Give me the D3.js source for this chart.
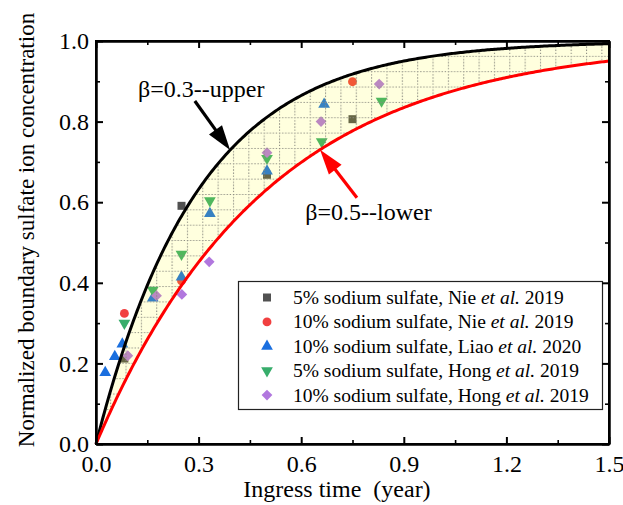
<!DOCTYPE html>
<html>
<head>
<meta charset="utf-8">
<script src="https://cdn.jsdelivr.net/npm/d3@7"></script>
<style>
  html, body { margin: 0; padding: 0; background: #fff; }
  svg { display: block; }
  svg text { font-family: "Liberation Serif", "Tinos", "Times New Roman", Times, "DejaVu Serif", serif !important; fill: #000; }
</style>
</head>
<body>
<svg id="chart" width="623" height="505" font-family="Liberation Serif"></svg>
<script>
// ---- measured boundary concentrations (time in years, normalized concentration) ----
const nie5Time   = [0.083, 0.25, 0.5, 0.75];
const nie5Conc   = [0.212, 0.591, 0.668, 0.806];
const nie10Time  = [0.083, 0.25, 0.75];
const nie10Conc  = [0.324, 0.405, 0.899];
const liao10Time = [0.027, 0.055, 0.077, 0.166, 0.25, 0.333, 0.5, 0.667];
const liao10Conc = [0.177, 0.217, 0.248, 0.362, 0.414, 0.572, 0.677, 0.843];
const hong5Time  = [0.083, 0.166, 0.25, 0.333, 0.5, 0.66, 0.835];
const hong5Conc  = [0.300, 0.382, 0.471, 0.604, 0.709, 0.750, 0.851];
const hong10Time = [0.093, 0.177, 0.251, 0.331, 0.5, 0.658, 0.828];
const hong10Conc = [0.219, 0.368, 0.371, 0.452, 0.723, 0.800, 0.893];

// legend entries: [before italic, italic, after italic]
const seriesLabels = [
  ["5% sodium sulfate, Nie ", "et al.", " 2019"],
  ["10% sodium sulfate, Nie ", "et al.", " 2019"],
  ["10% sodium sulfate, Liao ", "et al.", " 2020"],
  ["5% sodium sulfate, Hong ", "et al.", " 2019"],
  ["10% sodium sulfate, Hong ", "et al.", " 2019"]
];
const seriesColors  = ["#515151", "#F14040", "#1A6FDF", "#37AD6B", "#B177DE"];
const seriesSymbols = ["square", "circle", "triangleUp", "triangleDown", "diamond"];

// boundary model C(t) = 1 - exp(-t / beta)
const betaUpper = 0.3;
const betaLower = 0.5;
const upperLabel = "\u03B2=0.3--upper";
const lowerLabel = "\u03B2=0.5--lower";

// axis ticks
const xMajorTicks = [0, 0.3, 0.6, 0.9, 1.2, 1.5];
const xMinorTicks = [0.15, 0.45, 0.75, 1.05, 1.35];
const yMajorTicks = [0, 0.2, 0.4, 0.6, 0.8, 1.0];
const yMinorTicks = [0.1, 0.3, 0.5, 0.7, 0.9];
const xTitle = "Ingress time  (year)";
const yTitle = "Normalized boundary sulfate ion concentration";

const FONT = "'Liberation Serif', 'Tinos', 'Times New Roman', Times, 'DejaVu Serif', serif";

// ---- layout ----
const W = 623, H = 505;
const M = { left: 96, top: 41, right: 14, bottom: 61 };
const x = d3.scaleLinear().domain([0, 1.5]).range([M.left, W - M.right]);
const y = d3.scaleLinear().domain([0, 1]).range([H - M.bottom, M.top]);

const svg = d3.select("#chart");
const defs = svg.append("defs");

defs.append("clipPath").attr("id", "plotClip")
  .append("rect")
  .attr("x", x(0)).attr("y", y(1))
  .attr("width", x(1.5) - x(0)).attr("height", y(0) - y(1));

// dotted grid texture for the band between the two curves
const cell = 15.35;
const pat = defs.append("pattern")
  .attr("id", "dotGrid")
  .attr("patternUnits", "userSpaceOnUse")
  .attr("x", x(0) - 1.2).attr("y", y(1) - 0.5)
  .attr("width", cell).attr("height", cell);
pat.append("line")
  .attr("x1", 0.5).attr("x2", 0.5).attr("y1", 0).attr("y2", cell)
  .attr("stroke", "#8a8a80").attr("stroke-width", 1.1)
  .attr("stroke-dasharray", "1.3 1.75");
pat.append("line")
  .attr("x1", 0).attr("x2", cell).attr("y1", 0.5).attr("y2", 0.5)
  .attr("stroke", "#8a8a80").attr("stroke-width", 1.1)
  .attr("stroke-dasharray", "1.3 1.75");

// ---- markers ----
function symbolPath(kind) {
  switch (kind) {
    case "square":       return d3.symbol(d3.symbolSquare, 64)();
    case "circle":       return d3.symbol(d3.symbolCircle, 62)();
    case "triangleUp":   return d3.symbol(d3.symbolTriangle, 60)();
    case "triangleDown": return d3.symbol(d3.symbolTriangle, 60)();
    case "diamond":      return d3.symbol(d3.symbolSquare, 58)();
  }
}
function symbolRotate(kind) {
  if (kind === "triangleDown") return 180;
  if (kind === "diamond") return 45;
  return 0;
}

const seriesData = [
  d3.zip(nie5Time, nie5Conc),
  d3.zip(nie10Time, nie10Conc),
  d3.zip(liao10Time, liao10Conc),
  d3.zip(hong5Time, hong5Conc),
  d3.zip(hong10Time, hong10Conc)
];

const markerLayer = svg.append("g").attr("clip-path", "url(#plotClip)");
seriesData.forEach((pts, i) => {
  markerLayer.append("g")
    .selectAll("path")
    .data(pts)
    .join("path")
    .attr("d", symbolPath(seriesSymbols[i]))
    .attr("transform", d => `translate(${x(d[0])},${y(d[1])}) rotate(${symbolRotate(seriesSymbols[i])})`)
    .attr("fill", seriesColors[i]);
});

// ---- model band and curves ----
const tSamples = d3.range(0, 1.5001, 0.005);
const model = beta => t => 1 - Math.exp(-t / beta);
const upper = model(betaUpper), lower = model(betaLower);

const bandArea = d3.area()
  .x(t => x(t))
  .y0(t => y(lower(t)))
  .y1(t => y(upper(t)));

const plotLayer = svg.append("g").attr("clip-path", "url(#plotClip)");
plotLayer.append("path")
  .attr("d", bandArea(tSamples))
  .attr("fill", "rgb(255,255,0)")
  .attr("fill-opacity", 0.13);
plotLayer.append("path")
  .attr("d", bandArea(tSamples))
  .attr("fill", "url(#dotGrid)");

const curveLine = f => d3.line().x(t => x(t)).y(t => y(f(t)))(tSamples);
svg.append("path")
  .attr("d", curveLine(upper))
  .attr("fill", "none").attr("stroke", "#000").attr("stroke-width", 3)
  .attr("stroke-linejoin", "round");
svg.append("path")
  .attr("d", curveLine(lower))
  .attr("fill", "none").attr("stroke", "#FF0000").attr("stroke-width", 3)
  .attr("stroke-linejoin", "round");

// ---- annotation arrows ----
function arrow(x0, y0, x1, y1, color) {
  const len = Math.hypot(x1 - x0, y1 - y0);
  const ux = (x1 - x0) / len, uy = (y1 - y0) / len;
  const headLen = 25, headHalf = 8;
  const bx = x1 - ux * headLen, by = y1 - uy * headLen;
  svg.append("line")
    .attr("x1", x0).attr("y1", y0).attr("x2", bx + ux * 2).attr("y2", by + uy * 2)
    .attr("stroke", color).attr("stroke-width", 3.2);
  svg.append("path")
    .attr("d", `M${x1},${y1} L${bx - uy * headHalf},${by + ux * headHalf} L${bx + uy * headHalf},${by - ux * headHalf} Z`)
    .attr("fill", color);
}
const tipUpper = 0.392, tipLower = 0.655;
arrow(x(0.289), y(0.851), x(tipUpper), y(upper(tipUpper)), "#000");
arrow(x(0.763), y(0.611), x(tipLower), y(lower(tipLower)), "#FF0000");

svg.append("text")
  .attr("x", x(0.123)).attr("y", y(0.861))
  .attr("font-family", FONT)
  .attr("font-size", 24)
  .text(upperLabel);
svg.append("text")
  .attr("x", x(0.612)).attr("y", y(0.556))
  .attr("font-family", FONT)
  .attr("font-size", 24)
  .text(lowerLabel);

// ---- legend ----
const lg = svg.append("g");
const lgX = 238, lgY = 281, lgW = 364, lgH = 128;
lg.append("rect")
  .attr("x", lgX + 0.5).attr("y", lgY + 0.5)
  .attr("width", lgW).attr("height", lgH)
  .attr("fill", "#fff").attr("stroke", "#222").attr("stroke-width", 1.2);
seriesLabels.forEach((lab, i) => {
  const cy = lgY + 16.5 + i * 24.4;
  lg.append("path")
    .attr("d", symbolPath(seriesSymbols[i]))
    .attr("transform", `translate(${lgX + 29},${cy}) rotate(${symbolRotate(seriesSymbols[i])})`)
    .attr("fill", seriesColors[i]);
  const t = lg.append("text")
    .attr("x", lgX + 55).attr("y", cy + 6.5)
    .attr("font-family", FONT)
    .attr("font-size", 19.5)
    .style("white-space", "pre");
  t.append("tspan").text(lab[0]);
  t.append("tspan").attr("font-style", "italic").text(lab[1]);
  t.append("tspan").text(lab[2]);
});

// ---- axes (ticks point inward on all four sides) ----
const fmt = d3.format(".1f");
function styleAxis(g, width) {
  g.attr("font-family", FONT);
  g.select(".domain").attr("stroke", "#000").attr("stroke-width", 2);
  g.selectAll(".tick line").attr("stroke", "#000").attr("stroke-width", width);
  g.selectAll(".tick text")
    .attr("font-family", FONT)
    .attr("font-size", 24).attr("fill", "#000");
}
const gx = svg.append("g").attr("transform", `translate(0,${y(0)})`)
  .call(d3.axisBottom(x).tickValues(xMajorTicks).tickFormat(fmt)
    .tickSizeInner(-7).tickSizeOuter(0).tickPadding(11));
styleAxis(gx, 2);
const gxm = svg.append("g").attr("transform", `translate(0,${y(0)})`)
  .call(d3.axisBottom(x).tickValues(xMinorTicks).tickFormat("")
    .tickSizeInner(-4).tickSizeOuter(0));
styleAxis(gxm, 1.6);

const gy = svg.append("g").attr("transform", `translate(${x(0)},0)`)
  .call(d3.axisLeft(y).tickValues(yMajorTicks).tickFormat(fmt)
    .tickSizeInner(-7).tickSizeOuter(0).tickPadding(7));
styleAxis(gy, 2);
const gym = svg.append("g").attr("transform", `translate(${x(0)},0)`)
  .call(d3.axisLeft(y).tickValues(yMinorTicks).tickFormat("")
    .tickSizeInner(-4).tickSizeOuter(0));
styleAxis(gym, 1.6);

const gt = svg.append("g").attr("transform", `translate(0,${y(1)})`)
  .call(d3.axisTop(x).tickValues(xMajorTicks).tickFormat("")
    .tickSizeInner(-7).tickSizeOuter(0));
styleAxis(gt, 2);
const gtm = svg.append("g").attr("transform", `translate(0,${y(1)})`)
  .call(d3.axisTop(x).tickValues(xMinorTicks).tickFormat("")
    .tickSizeInner(-4).tickSizeOuter(0));
styleAxis(gtm, 1.6);

const gr = svg.append("g").attr("transform", `translate(${x(1.5)},0)`)
  .call(d3.axisRight(y).tickValues(yMajorTicks).tickFormat("")
    .tickSizeInner(-7).tickSizeOuter(0));
styleAxis(gr, 2);
const grm = svg.append("g").attr("transform", `translate(${x(1.5)},0)`)
  .call(d3.axisRight(y).tickValues(yMinorTicks).tickFormat("")
    .tickSizeInner(-4).tickSizeOuter(0));
styleAxis(grm, 1.6);

// square off the frame corners
svg.append("rect")
  .attr("x", x(0)).attr("y", y(1))
  .attr("width", x(1.5) - x(0)).attr("height", y(0) - y(1))
  .attr("fill", "none").attr("stroke", "#000").attr("stroke-width", 2);

// ---- axis titles ----
svg.append("text")
  .attr("x", 337).attr("y", 497)
  .attr("text-anchor", "middle")
  .attr("font-family", FONT)
  .attr("font-size", 24)
  .style("white-space", "pre")
  .text(xTitle);
svg.append("text")
  .attr("transform", "translate(34,230) rotate(-90)")
  .attr("text-anchor", "middle")
  .attr("font-family", FONT)
  .attr("font-size", 23)
  .text(yTitle);
</script>
</body>
</html>
